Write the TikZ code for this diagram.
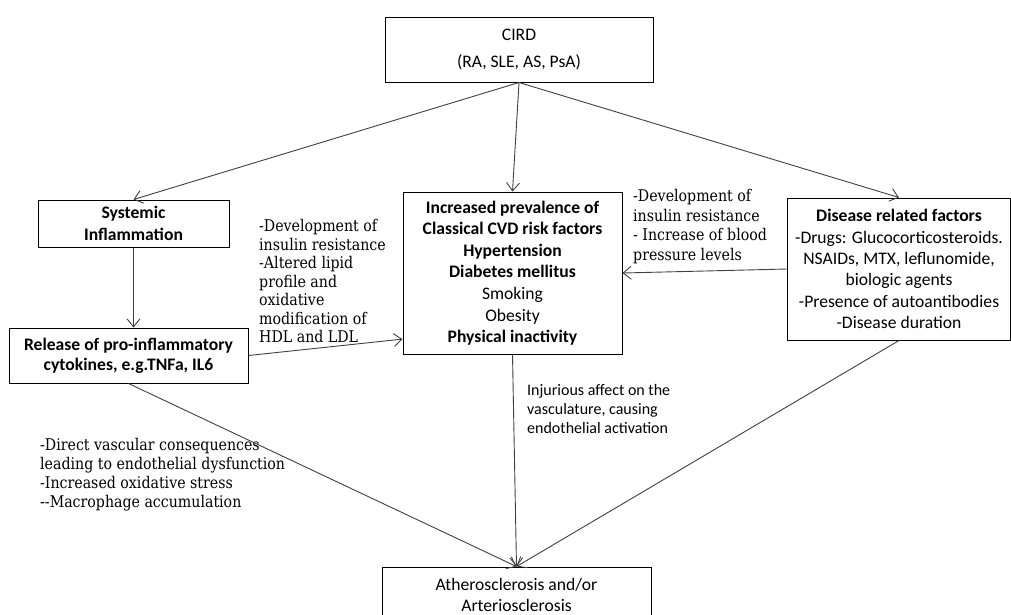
\documentclass[tikz,border=0pt]{standalone}
\usepackage{fontspec}
\setmainfont{Carlito}
\newfontfamily\serifnote[FakeStretch=0.88]{DejaVu Serif}
\usetikzlibrary{arrows.meta}
\begin{document}
\begin{tikzpicture}[x=1pt,y=-1pt]
    \tikzstyle{every node}+=[inner sep=0pt]
    \tikzstyle{box}=[draw=black,line width=1pt,align=center,font=\fontsize{17.6}{21.5}\selectfont]
    \tikzstyle{note}=[anchor=west,align=left,font=\serifnote\fontsize{16.1}{18.5}\selectfont]
    \tikzstyle{arr}=[draw=black!75,line width=0.9pt,-{Straight Barb[length=8pt,width=13pt]}]
    \useasboundingbox (0,0) rectangle (1011,614);
    \clip (0,0) rectangle (1011,614);
    \node [box,minimum width=268pt,minimum height=65pt] (cird) at (519,49.5) {CIRD\\[5.5pt](RA, SLE, AS, PsA)};
    \node [box,minimum width=191pt,minimum height=47pt,font=\bfseries\fontsize{17.6}{21.5}\selectfont] (sys) at (133.5,223.5) {Systemic\\Inflammation};
    \node [box,minimum width=239pt,minimum height=55pt,font=\bfseries\fontsize{17.6}{20}\selectfont] (rel) at (128.5,355.5) {Release of pro-inflammatory\\cytokines, e.g.TNFa, IL6};
    \node [box,minimum width=219pt,minimum height=162pt,font=\fontsize{17.6}{21.6}\selectfont] (cvd) at (512.5,273) {\textbf{Increased prevalence of}\\\textbf{Classical CVD risk factors}\\\textbf{Hypertension}\\\textbf{Diabetes mellitus}\\Smoking\\Obesity\\\textbf{Physical inactivity}};
    \node [box,minimum width=223pt,minimum height=142pt,font=\fontsize{17.6}{21.4}\selectfont] (dis) at (899,269) {\textbf{Disease related factors}\\-Drugs: Glucocorticosteroids.\\NSAIDs, MTX, leflunomide,\\biologic agents\\-Presence of autoantibodies\\-Disease duration};
    \node [box,minimum width=269pt,minimum height=55pt,font=\fontsize{17.6}{21}\selectfont] (ath) at (516.5,594.5) {Atherosclerosis and/or\\Arteriosclerosis};
    \node [note] (lipid) at (259,281) {-Development of\\insulin resistance\\-Altered lipid\\profile and\\oxidative\\modification of\\HDL and LDL};
    \node [note,font=\serifnote\fontsize{16.1}{19.7}\selectfont] (blood) at (633,226.5) {-Development of\\insulin resistance\\- Increase of blood\\pressure levels};
    \node [note,font=\serifnote\fontsize{16.1}{19}\selectfont] (vasc) at (40,474.5) {-Direct vascular consequences\\leading to endothelial dysfunction\\-Increased oxidative stress\\-{}-Macrophage accumulation};
    \node [note,font=\fontsize{16}{19}\selectfont] (injur) at (527,409) {Injurious affect on the\\vasculature, causing\\endothelial activation};
    \draw [arr] (cird.south) -- (sys.north);
    \draw [arr] (cird.south) -- (cvd.north);
    \draw [arr] (cird.south) -- (dis.north);
    \draw [arr] (sys.south) -- (sys.south |- rel.north);
    \draw [arr] (rel.east) -- (cvd.211);
    \draw [arr] (dis.west) -- (cvd.east);
    \draw [arr] (rel.south) -- (ath.north);
    \draw [arr] (cvd.south) -- (ath.north);
    \draw [arr] (dis.south) -- (ath.north);
\end{tikzpicture}
\end{document}
